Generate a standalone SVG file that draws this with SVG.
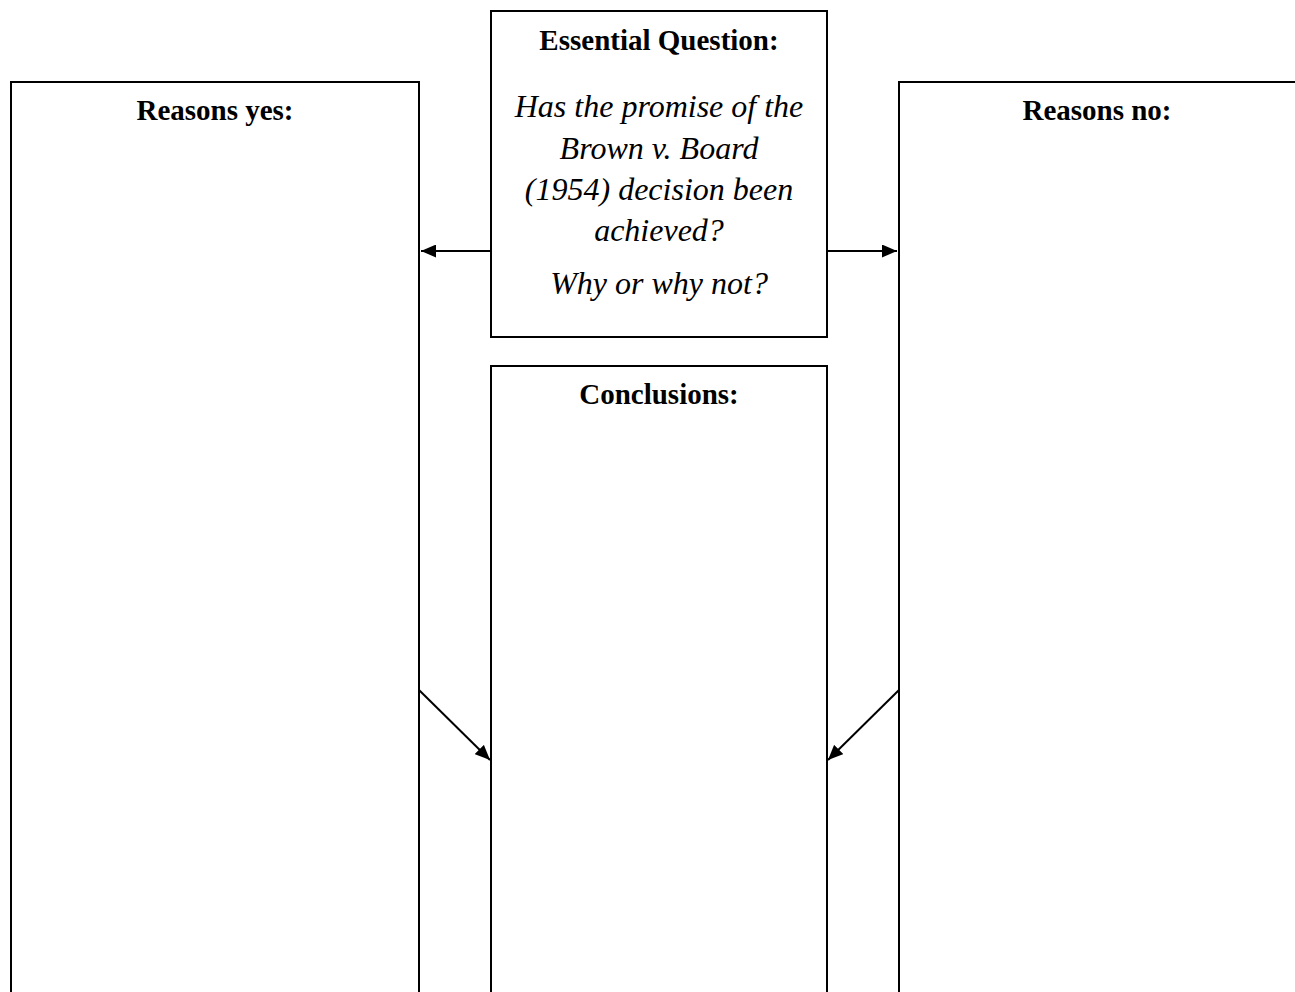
<svg xmlns="http://www.w3.org/2000/svg" width="1295" height="992" viewBox="0 0 1295 992">
<style>
.box{fill:#fff;stroke:#000;stroke-width:2}
.conn{fill:none;stroke:#000;stroke-width:2}
.h{font-family:"Liberation Serif",serif;font-weight:bold;font-size:29px;text-anchor:middle;fill:#000}
.q{font-family:"Liberation Serif",serif;font-style:italic;font-size:32px;text-anchor:middle;fill:#000}
</style>
<defs>
<marker id="ah" viewBox="0 0 10 10" refX="10" refY="5" markerWidth="15" markerHeight="13" markerUnits="userSpaceOnUse" orient="auto" preserveAspectRatio="none">
<path d="M0,0 L10,5 L0,10 z" fill="#000"/>
</marker>
</defs>
<rect width="1295" height="992" fill="#fff"/>
<g id="reasons-yes">
<path class="box" d="M11,1000 V82 H419 V1000"/>
<text class="h" x="215" y="120">Reasons yes:</text>
</g>
<g id="reasons-no">
<path class="box" d="M899,1000 V82 H1300"/>
<text class="h" x="1097" y="120">Reasons no:</text>
</g>
<g id="essential-question">
<rect class="box" x="491" y="11" width="336" height="326"/>
<text class="h" x="659" y="50">Essential Question:</text>
<text class="q" x="659" y="117">Has the promise of the</text>
<text class="q" x="659" y="159">Brown v. Board</text>
<text class="q" x="659" y="200">(1954) decision been</text>
<text class="q" x="659" y="241">achieved?</text>
<text class="q" x="659" y="294">Why or why not?</text>
</g>
<g id="conclusions">
<path class="box" d="M491,1000 V366 H827 V1000"/>
<text class="h" x="659" y="404">Conclusions:</text>
</g>
<g id="connectors">
<line class="conn" x1="491" y1="251" x2="421" y2="251" marker-end="url(#ah)"/>
<line class="conn" x1="827" y1="251" x2="897" y2="251" marker-end="url(#ah)"/>
<line class="conn" x1="419" y1="690" x2="490" y2="760" marker-end="url(#ah)"/>
<line class="conn" x1="899" y1="690" x2="828" y2="760" marker-end="url(#ah)"/>
</g>
</svg>
